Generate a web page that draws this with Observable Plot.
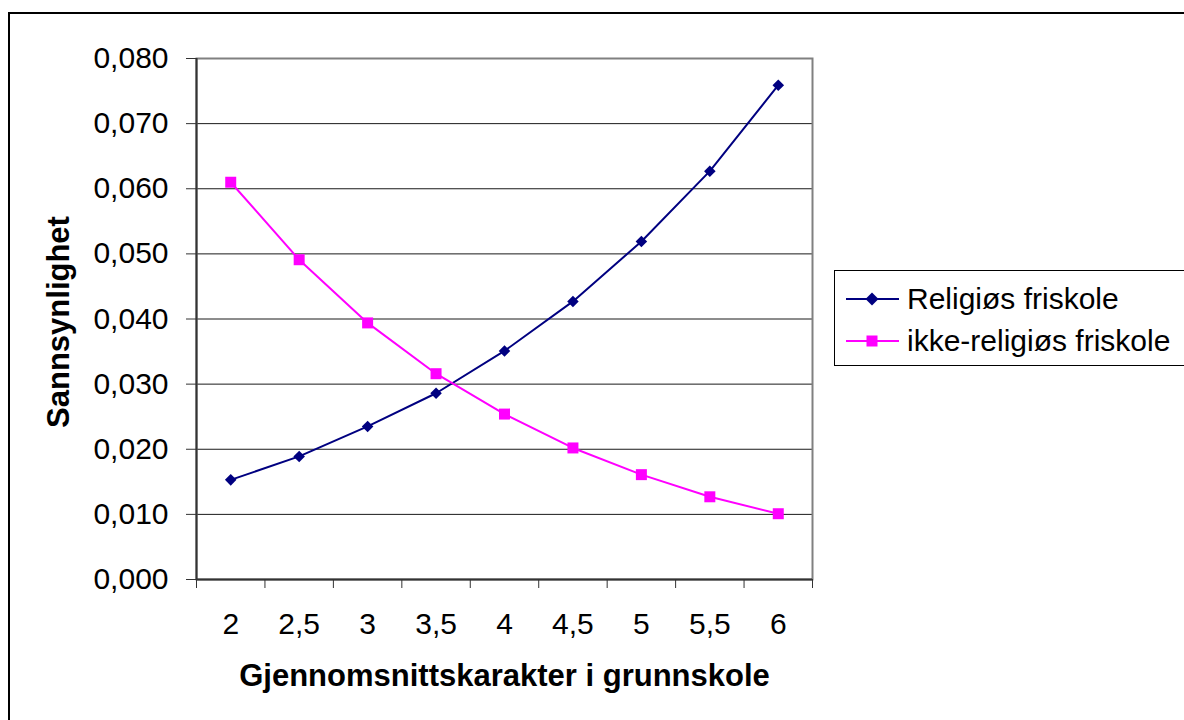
<!DOCTYPE html>
<html>
<head>
<meta charset="utf-8">
<script src="https://cdn.jsdelivr.net/npm/d3@7"></script>
<script src="https://cdn.jsdelivr.net/npm/@observablehq/plot@0.6"></script>
<style>
  html, body { margin: 0; padding: 0; background: #fff; overflow: hidden; }
  #page { position: relative; width: 1184px; height: 720px; overflow: hidden; font-family: "Liberation Sans", Arial, sans-serif; }
  #border { position: absolute; left: 8px; top: 12px; width: 1300px; height: 900px; border-left: 2px solid #000; border-top: 2px solid #000; }
  #chart { position: absolute; left: 0; top: 0; }
  #legend { position: absolute; left: 834px; top: 270px; width: 420px; height: 94px; border: 1px solid #000; background: #fff; }
  .row { position: absolute; left: 0; height: 40px; display: flex; align-items: center; font-size: 30px; color: #000; white-space: nowrap; }
  .row svg { margin-left: 11px; margin-right: 8px; }
</style>
</head>
<body>
<div id="page">
  <div id="border"></div>
  <div id="chart"></div>
  <div id="legend"></div>
</div>
<script>
const grades = [2, 2.5, 3, 3.5, 4, 4.5, 5, 5.5, 6];
const religious = [0.0153, 0.0189, 0.0235, 0.0286, 0.0351, 0.0427, 0.0519, 0.0627, 0.0759];
const nonReligious = [0.0610, 0.0491, 0.0394, 0.0316, 0.0254, 0.0202, 0.0161, 0.0127, 0.0101];
const yTicks = [0, 0.01, 0.02, 0.03, 0.04, 0.05, 0.06, 0.07, 0.08];
const seriesNames = ["Religiøs friskole", "ikke-religiøs friskole"];
const xTitle = "Gjennomsnittskarakter i grunnskole";
const yTitle = "Sannsynlighet";

const colors = ["#000080", "#FF00FF"];
const symbols = ["diamond2", "square"];
const radii = [5.2, 6.2];

const rows = [];
grades.forEach((g, i) => {
  rows.push({grade: g, value: religious[i], series: seriesNames[0]});
});
grades.forEach((g, i) => {
  rows.push({grade: g, value: nonReligious[i], series: seriesNames[1]});
});

const halfStep = 0.25;
const boundaries = grades.map(g => g - halfStep).concat([grades[grades.length - 1] + halfStep]);
const xMin = boundaries[0], xMax = boundaries[boundaries.length - 1];

const fmtY = d => d3.format(".3f")(d).replace(".", ",");
const fmtX = d => String(d).replace(".", ",");

const marks = [
  Plot.ruleY(yTicks.slice(1, -1), {y: d => d, stroke: "#1a1a1a", strokeWidth: 1}),
  Plot.frame({stroke: "#808080", strokeWidth: 2}),
  Plot.ruleX([xMin], {x: d => d, stroke: "#333", strokeWidth: 2}),
  Plot.ruleY([0], {y: d => d, stroke: "#333", strokeWidth: 2}),
  Plot.axisY(yTicks, {tickSize: 10, tickPadding: 18, tickFormat: fmtY, label: null, stroke: "#333"}),
  Plot.axisX(boundaries, {tickSize: 9, tickFormat: () => "", label: null, stroke: "#333"}),
  Plot.axisX(grades, {tickSize: 0, tickPadding: 33, tickFormat: fmtX, label: null})
];
seriesNames.forEach((s, k) => {
  const data = rows.filter(r => r.series === s);
  marks.push(Plot.line(data, {x: "grade", y: "value", stroke: colors[k], strokeWidth: 2}));
});
seriesNames.forEach((s, k) => {
  const data = rows.filter(r => r.series === s);
  marks.push(Plot.dot(data, {x: "grade", y: "value", symbol: symbols[k], r: radii[k], fill: colors[k], stroke: "none"}));
});
marks.push(Plot.text([xTitle], {text: d => d, frameAnchor: "bottom", dy: 97, textAnchor: "middle", lineAnchor: "middle", fontWeight: "bold", fontSize: 31}));
marks.push(Plot.text([yTitle], {text: d => d, frameAnchor: "left", dx: -137, dy: 3, rotate: -90, textAnchor: "middle", lineAnchor: "middle", fontWeight: "bold", fontSize: 31}));

const chart = Plot.plot({
  width: 1184,
  height: 720,
  marginLeft: 196,
  marginRight: 372,
  marginTop: 58,
  marginBottom: 141,
  x: {type: "linear", domain: [xMin, xMax]},
  y: {type: "linear", domain: [yTicks[0], yTicks[yTicks.length - 1]]},
  style: {fontFamily: '"Liberation Sans", Arial, sans-serif', fontSize: "30px", color: "#000", background: "transparent", overflow: "visible"},
  marks
});
document.getElementById("chart").appendChild(chart);

// legend
const legend = document.getElementById("legend");
seriesNames.forEach((s, k) => {
  const row = document.createElement("div");
  row.className = "row";
  row.style.top = (k === 0 ? 8 : 50) + "px";
  const sym = k === 0
    ? `<polygon points="26,-6.5 32.5,0 26,6.5 19.5,0" fill="${colors[k]}"/>`
    : `<rect x="20.5" y="-5.5" width="11" height="11" fill="${colors[k]}"/>`;
  row.innerHTML = `<svg width="53" height="20" viewBox="0 -10 53 20"><line x1="0" y1="0" x2="53" y2="0" stroke="${colors[k]}" stroke-width="2"/>${sym}</svg><span>${s}</span>`;
  legend.appendChild(row);
});
</script>
</body>
</html>
